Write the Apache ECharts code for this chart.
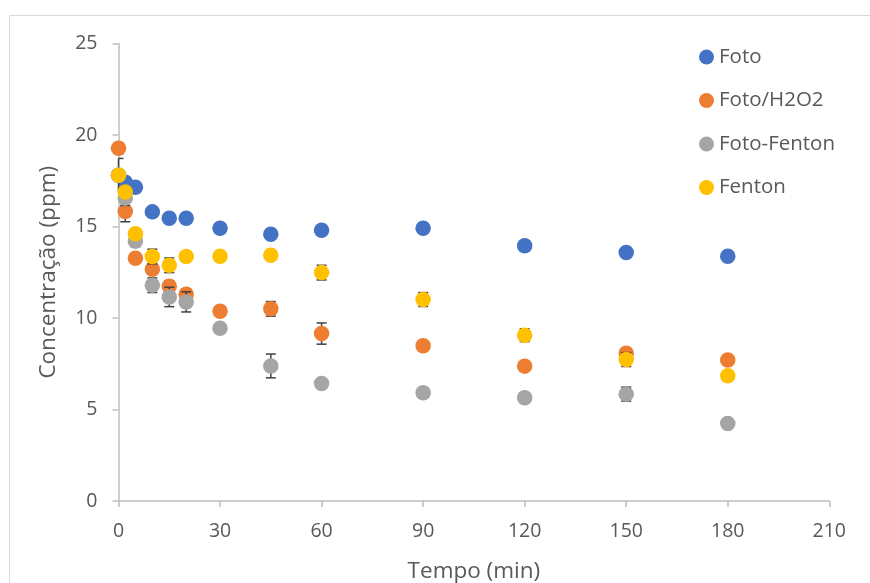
<!DOCTYPE html>
<html>
<head>
<meta charset="utf-8">
<script src="https://cdn.jsdelivr.net/npm/echarts@6/dist/echarts.min.js"></script>
<style>
  html, body { margin: 0; padding: 0; background: #fff; }
  #chart { width: 870px; height: 583px; }
</style>
</head>
<body>
<div id="chart"></div>
<script>
// Sampling times (min)
const times = [0, 2, 5, 10, 15, 20, 30, 45, 60, 90, 120, 150, 180];

// Concentration (ppm) per treatment
const foto       = [17.8, 17.42, 17.14, 15.8, 15.45, 15.45, 14.9, 14.58, 14.8, 14.9, 13.95, 13.58, 13.37];
const fotoH2O2   = [19.28, 15.82, 13.27, 12.66, 11.74, 11.3, 10.37, 10.5, 9.15, 8.48, 7.37, 8.08, 7.7];
const fotoFenton = [17.8, 16.55, 14.2, 11.79, 11.15, 10.88, 9.44, 7.38, 6.42, 5.91, 5.64, 5.84, 4.24];
const fenton     = [17.8, 16.88, 14.6, 13.36, 12.88, 13.36, 13.37, 13.43, 12.48, 11.01, 9.06, 7.73, 6.84];

// Standard deviations (ppm)
const fotoErr       = [0.2, 0.2, 0.2, 0.2, 0.2, 0.2, 0.2, 0.2, 0.2, 0.2, 0.2, 0.2, 0.2];
const fotoH2O2Err   = [0.3, 0.56, 0.2, 0.2, 0.3, 0.3, 0.2, 0.4, 0.58, 0.2, 0.2, 0.25, 0.2];
const fotoFentonErr = [0.92, 0.4, 0.3, 0.4, 0.53, 0.55, 0.2, 0.65, 0.2, 0.2, 0.2, 0.38, 0.2];
const fentonErr     = [0.2, 0.2, 0.2, 0.4, 0.4, 0.2, 0.2, 0.2, 0.4, 0.38, 0.35, 0.38, 0.2];

const seriesNames = ['Foto', 'Foto/H2O2', 'Foto-Fenton', 'Fenton'];
const seriesValues = [foto, fotoH2O2, fotoFenton, fenton];
const seriesErrors = [fotoErr, fotoH2O2Err, fotoFentonErr, fentonErr];
const colors = ['#4472C4', '#ED7D31', '#A5A5A5', '#FFC000'];

const xTicks = { min: 0, max: 210, interval: 30 };
const yTicks = { min: 0, max: 25, interval: 5 };

const font = '"Open Sans", "Noto Sans", sans-serif';
const labelColor = '#595959';
const axisColor = '#BFBFBF';

function errorBarRenderer(params, api) {
  const x = api.value(0), lo = api.value(1), hi = api.value(2);
  const top = api.coord([x, hi]);
  const bot = api.coord([x, lo]);
  const cs = params.coordSys;
  const half = 5;
  const l = Math.max(top[0] - half, cs.x);
  const r = Math.min(top[0] + half, cs.x + cs.width);
  const style = { stroke: '#404040', lineWidth: 1.5, fill: null };
  return {
    type: 'group',
    children: [
      { type: 'line', shape: { x1: top[0], y1: top[1], x2: bot[0], y2: bot[1] }, style },
      { type: 'line', shape: { x1: l, y1: top[1], x2: r, y2: top[1] }, style },
      { type: 'line', shape: { x1: l, y1: bot[1], x2: r, y2: bot[1] }, style }
    ]
  };
}

const series = [];
seriesNames.forEach((name, i) => {
  series.push({
    name: name + ' sd',
    type: 'custom',
    renderItem: errorBarRenderer,
    data: times.map((t, k) => [t, seriesValues[i][k] - seriesErrors[i][k], seriesValues[i][k] + seriesErrors[i][k]]),
    encode: { x: 0, y: [1, 2] },
    z: 2 + i * 2,
    silent: true
  });
  series.push({
    name: name,
    type: 'scatter',
    data: times.map((t, k) => [t, seriesValues[i][k]]),
    symbol: 'circle',
    symbolSize: 15.5,
    itemStyle: { color: colors[i], opacity: 1 },
    z: 3 + i * 2,
    clip: false
  });
});

const chart = echarts.init(document.getElementById('chart'), null, { renderer: 'canvas' });
chart.setOption({
  animation: false,
  backgroundColor: '#ffffff',
  color: colors,
  graphic: [{
    type: 'rect',
    shape: { x: 9.5, y: 15.5, width: 900, height: 620 },
    style: { fill: null, stroke: '#D9D9D9', lineWidth: 1 },
    z: 0
  }],
  grid: {
    left: 118.5, right: 40.7, top: 43.5, bottom: 82,
    containLabel: false,
    outerBoundsMode: 'none'
  },
  legend: {
    data: seriesNames,
    orient: 'vertical',
    left: 694,
    top: 39,
    itemGap: 17.5,
    itemWidth: 15,
    itemHeight: 15,
    icon: 'circle',
    textStyle: { fontFamily: font, fontSize: 20.5, color: labelColor, lineHeight: 26 }
  },
  xAxis: {
    type: 'value',
    min: xTicks.min, max: xTicks.max, interval: xTicks.interval,
    name: 'Tempo (min)',
    nameLocation: 'middle',
    nameGap: 59,
    nameTextStyle: { fontFamily: font, fontSize: 22.5, color: labelColor },
    axisLine: { show: true, lineStyle: { color: axisColor, width: 1.5 } },
    axisTick: { show: true, length: 6, lineStyle: { color: axisColor, width: 1.5 } },
    axisLabel: { fontFamily: font, fontSize: 19.5, color: labelColor, margin: 20 },
    splitLine: { show: false }
  },
  yAxis: {
    type: 'value',
    min: yTicks.min, max: yTicks.max, interval: yTicks.interval,
    name: 'Concentração (ppm)',
    nameLocation: 'middle',
    nameGap: 58,
    nameTextStyle: { fontFamily: font, fontSize: 22.5, color: labelColor },
    axisLine: { show: true, lineStyle: { color: axisColor, width: 1.5 } },
    axisTick: { show: true, length: 6, lineStyle: { color: axisColor, width: 1.5 } },
    axisLabel: { fontFamily: font, fontSize: 19.5, color: labelColor, margin: 21 },
    splitLine: { show: false }
  },
  series: series
});
</script>
</body>
</html>
